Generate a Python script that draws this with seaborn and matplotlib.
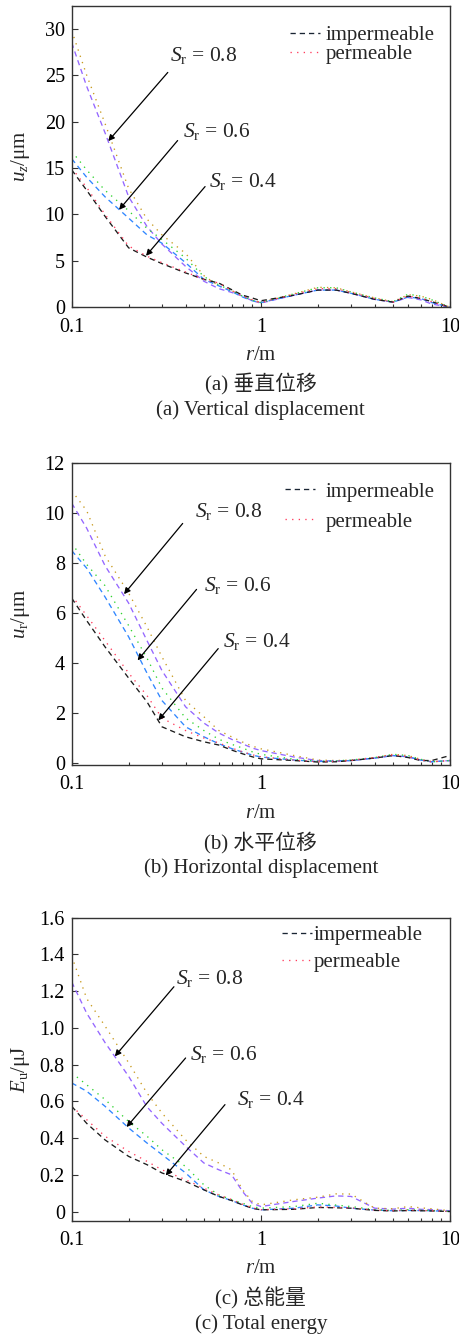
import numpy as np
import pandas as pd
import matplotlib
matplotlib.use("Agg")
import matplotlib.pyplot as plt
import seaborn as sns
from matplotlib.lines import Line2D
from matplotlib.ticker import FixedLocator, FixedFormatter, LogLocator, NullFormatter

# ---------------- data ----------------
R = [0.1, 0.12, 0.15, 0.2, 0.25, 0.3, 0.4, 0.5, 0.6, 0.7, 0.8, 0.9, 1.0,
     1.5, 2.0, 2.5, 3.0, 4.0, 5.0, 6.0, 7.0, 8.0, 10.0]

SERIES = ["Sr0.8 imp", "Sr0.8 perm", "Sr0.6 imp", "Sr0.6 perm", "Sr0.4 imp", "Sr0.4 perm"]

# (a) vertical displacement u_z / um
UZ_08_IMP = [28.5, 23.8, 18.8, 11.9, 8.7, 6.8, 4.4, 2.8, 2.0, 1.6, 1.2, 0.7, 0.45,
             1.3, 1.85, 1.85, 1.5, 0.85, 0.55, 1.05, 0.8, 0.35, 0.0]
UZ_08_PERM = [29.8, 25.0, 19.8, 12.8, 9.5, 7.8, 5.8, 3.4, 2.3, 1.8, 1.25, 0.75, 0.5,
              1.45, 2.15, 2.1, 1.65, 1.0, 0.6, 1.35, 1.2, 0.85, 0.0]
UZ_06_IMP = [16.0, 14.0, 11.9, 9.6, 7.8, 6.9, 4.8, 3.0, 2.3, 1.7, 1.1, 0.7, 0.5,
             1.3, 1.85, 1.85, 1.5, 0.85, 0.55, 1.1, 0.95, 0.5, 0.0]
UZ_06_PERM = [16.8, 14.8, 12.6, 10.4, 8.5, 7.3, 5.3, 3.3, 2.4, 1.8, 1.2, 0.75, 0.5,
              1.45, 2.1, 2.1, 1.65, 1.0, 0.6, 1.4, 1.2, 0.8, 0.0]
UZ_04_IMP = [14.8, 12.6, 9.8, 6.4, 5.4, 4.7, 3.7, 3.0, 2.6, 1.9, 1.3, 1.0, 0.7,
             1.3, 1.85, 1.85, 1.5, 0.85, 0.55, 1.2, 0.95, 0.6, 0.0]
UZ_04_PERM = [15.0, 12.9, 10.0, 6.6, 5.5, 4.8, 3.8, 3.0, 2.6, 1.8, 1.2, 0.8, 0.5,
              1.4, 2.0, 2.0, 1.6, 0.95, 0.55, 1.2, 1.0, 0.6, 0.0]

# (b) horizontal displacement u_r / um
UR_08_IMP = [10.4, 9.4, 7.9, 6.4, 4.9, 3.7, 2.25, 1.6, 1.2, 0.95, 0.77, 0.6, 0.5,
             0.24, 0.1, 0.08, 0.1, 0.2, 0.3, 0.25, 0.12, 0.05, 0.1]
UR_08_PERM = [10.9, 10.1, 8.3, 6.8, 5.45, 4.25, 2.5, 1.85, 1.3, 1.05, 0.84, 0.68, 0.57,
              0.3, 0.12, 0.1, 0.12, 0.22, 0.35, 0.3, 0.15, 0.05, 0.1]
UR_06_IMP = [8.5, 7.8, 6.65, 5.05, 3.6, 2.5, 1.45, 1.05, 0.77, 0.58, 0.44, 0.32, 0.24,
             0.12, 0.06, 0.08, 0.1, 0.2, 0.3, 0.25, 0.12, 0.05, 0.1]
UR_06_PERM = [8.8, 7.95, 7.1, 5.5, 4.2, 3.0, 1.8, 1.3, 0.95, 0.75, 0.6, 0.45, 0.35,
              0.15, 0.07, 0.09, 0.12, 0.22, 0.35, 0.3, 0.15, 0.05, 0.1]
UR_04_IMP = [6.6, 5.7, 4.65, 3.4, 2.45, 1.45, 1.05, 0.85, 0.72, 0.52, 0.37, 0.25, 0.17,
             0.1, 0.04, 0.05, 0.1, 0.2, 0.3, 0.22, 0.1, 0.1, 0.3]
UR_04_PERM = [6.7, 5.9, 4.9, 3.6, 2.7, 1.8, 1.3, 1.0, 0.8, 0.6, 0.45, 0.33, 0.25,
              0.12, 0.05, 0.07, 0.1, 0.22, 0.33, 0.25, 0.12, 0.05, 0.1]

# (c) total energy E_u / uJ
EU_08_IMP = [1.25, 1.08, 0.92, 0.736, 0.57, 0.48, 0.355, 0.264, 0.227, 0.20, 0.109, 0.045, 0.027,
             0.055, 0.073, 0.085, 0.082, 0.018, 0.013, 0.018, 0.012, 0.01, 0.004]
EU_08_PERM = [1.39, 1.16, 1.01, 0.81, 0.645, 0.536, 0.39, 0.30, 0.264, 0.227, 0.118, 0.055, 0.036,
              0.064, 0.078, 0.096, 0.095, 0.018, 0.015, 0.027, 0.02, 0.015, 0.004]
EU_06_IMP = [0.70, 0.655, 0.573, 0.455, 0.373, 0.31, 0.21, 0.118, 0.082, 0.06, 0.036, 0.018, 0.009,
             0.018, 0.036, 0.03, 0.018, 0.008, 0.004, 0.006, 0.005, 0.004, 0.0]
EU_06_PERM = [0.755, 0.69, 0.61, 0.49, 0.41, 0.336, 0.245, 0.145, 0.09, 0.065, 0.045, 0.027, 0.018,
              0.027, 0.045, 0.035, 0.027, 0.01, 0.006, 0.01, 0.008, 0.006, 0.0]
EU_04_IMP = [0.573, 0.48, 0.39, 0.30, 0.255, 0.21, 0.164, 0.118, 0.082, 0.06, 0.036, 0.018, 0.009,
             0.012, 0.022, 0.02, 0.018, 0.006, 0.003, 0.005, 0.004, 0.003, 0.0]
EU_04_PERM = [0.573, 0.50, 0.41, 0.327, 0.273, 0.227, 0.173, 0.127, 0.09, 0.065, 0.04, 0.02, 0.01,
              0.015, 0.025, 0.022, 0.02, 0.008, 0.004, 0.008, 0.006, 0.004, 0.0]

X_TICKS = [0.1, 1, 10]
X_TICKLABELS = ["0.1", "1", "10"]
UZ_TICKS = [0, 5, 10, 15, 20, 25, 30]
UR_TICKS = [0, 2, 4, 6, 8, 10, 12]
EU_TICKS = [0, 0.2, 0.4, 0.6, 0.8, 1.0, 1.2, 1.4, 1.6]
EU_TICKLABELS = ["0", "0.2", "0.4", "0.6", "0.8", "1.0", "1.2", "1.4", "1.6"]
SR_LABELS = ["0.8", "0.6", "0.4"]
LEGEND_LABELS = ["impermeable", "permeable"]

# ---------------- style ----------------
sns.set_theme(style="ticks")
plt.rcParams["font.family"] = ["Liberation Serif", "Noto Sans CJK SC"]
plt.rcParams["mathtext.fontset"] = "custom"
plt.rcParams["mathtext.rm"] = "Liberation Serif"
plt.rcParams["mathtext.it"] = "Liberation Serif:italic"
plt.rcParams["axes.unicode_minus"] = False

PALETTE = {
    "Sr0.8 imp": "#9466ff", "Sr0.8 perm": "#c89a1e",
    "Sr0.6 imp": "#2f86ff", "Sr0.6 perm": "#2fd42f",
    "Sr0.4 imp": "#1c1c1c", "Sr0.4 perm": "#ff3b5c",
}
DASHES = {s: ((4, 3) if s.endswith("imp") else (1, 4)) for s in SERIES}
LW = 0.95
SPINE = "#333333"
FS_TICK = 14.5
FS_LAB = 15
FS_ANN = 15.5
FS_LEG = 15


def long_df(cols):
    frames = []
    for name, vals in zip(SERIES, cols):
        frames.append(pd.DataFrame({"r": R, "v": vals, "series": name}))
    return pd.concat(frames, ignore_index=True)


panels = [
    dict(cols=[UZ_08_IMP, UZ_08_PERM, UZ_06_IMP, UZ_06_PERM, UZ_04_IMP, UZ_04_PERM],
         ylim=(0, 32.5), yticks=UZ_TICKS, yticklabels=[str(t) for t in UZ_TICKS],
         ylabel=r"$u_z$/μm", caps=["(a) 垂直位移", "(a) Vertical displacement"],
         rect=[0.1559, 0.7702, 0.8224, 0.2256],
         ann=[((0.331, 27.1), (0.322, 25.3), (0.156, 17.9)),
              ((0.389, 18.96), (0.363, 17.96), (0.178, 10.5)),
              ((0.533, 13.56), (0.507, 13.0), (0.247, 5.54))],
         leg=dict(anchor=(0.577, 0.935), spacing=0.0, pad=0.25)),
    dict(cols=[UR_08_IMP, UR_08_PERM, UR_06_IMP, UR_06_PERM, UR_04_IMP, UR_04_PERM],
         ylim=(-0.08, 12.02), yticks=UR_TICKS, yticklabels=[str(t) for t in UR_TICKS],
         ylabel=r"$u_\mathrm{r}$/μm", caps=["(b) 水平位移", "(b) Horizontal displacement"],
         rect=[0.1559, 0.4278, 0.8224, 0.2261],
         ann=[((0.449, 10.06), (0.386, 9.59), (0.189, 6.76)),
              ((0.50, 7.12), (0.457, 6.95), (0.223, 4.11)),
              ((0.628, 4.85), (0.595, 4.58), (0.287, 1.71))],
         leg=dict(anchor=(0.564, 0.936), spacing=0.5, pad=0.5)),
    dict(cols=[EU_08_IMP, EU_08_PERM, EU_06_IMP, EU_06_PERM, EU_04_IMP, EU_04_PERM],
         ylim=(-0.05, 1.6), yticks=EU_TICKS, yticklabels=EU_TICKLABELS,
         ylabel=r"$E_\mathrm{u}$/μJ", caps=["(c) 总能量", "(c) Total energy"],
         rect=[0.1559, 0.0870, 0.8224, 0.2266],
         ann=[((0.356, 1.27), (0.347, 1.224), (0.169, 0.845)),
              ((0.422, 0.855), (0.400, 0.836), (0.195, 0.46)),
              ((0.75, 0.609), (0.646, 0.582), (0.314, 0.196))],
         leg=dict(anchor=(0.555, 0.974), spacing=0.35, pad=0.1)),
]

fig = plt.figure(figsize=(4.60, 13.37), dpi=100)
fig.patch.set_facecolor("white")

for p in panels:
    ax = fig.add_axes(p["rect"])
    df = long_df(p["cols"])
    sns.lineplot(data=df, x="r", y="v", hue="series", style="series",
                 palette=PALETTE, dashes=DASHES, linewidth=LW,
                 estimator=None, sort=False, legend=False, ax=ax)
    ax.set_xscale("log")
    ax.set_xlim(0.1, 10)
    ax.set_ylim(*p["ylim"])
    ax.xaxis.set_major_locator(FixedLocator(X_TICKS))
    ax.xaxis.set_major_formatter(FixedFormatter(X_TICKLABELS))
    ax.xaxis.set_minor_locator(LogLocator(base=10, subs=np.arange(2, 10)))
    ax.xaxis.set_minor_formatter(NullFormatter())
    ax.yaxis.set_major_locator(FixedLocator(p["yticks"]))
    ax.yaxis.set_major_formatter(FixedFormatter(p["yticklabels"]))
    ax.tick_params(which="both", direction="in", top=False, right=False,
                   color=SPINE, width=0.8, labelsize=FS_TICK, labelcolor="black")
    ax.tick_params(which="major", length=4.2)
    ax.tick_params(axis="x", which="major", pad=7.5)
    ax.tick_params(axis="y", which="major", pad=5)
    ax.tick_params(which="minor", length=2.5)
    for sp in ax.spines.values():
        sp.set_visible(True)
        sp.set_color(SPINE)
        sp.set_linewidth(1.0)
    ax.set_facecolor("white")
    ax.grid(False)

    ax.set_xlabel(r"$r$/m", fontsize=FS_LAB)
    ax.set_ylabel(p["ylabel"], fontsize=FS_LAB)
    ax.xaxis.set_label_coords(0.5, -0.128)
    ax.yaxis.set_label_coords(-0.106, 0.5)

    for lab, (tpos, apos, tip) in zip(SR_LABELS, p["ann"]):
        ax.text(tpos[0], tpos[1], r"$S_\mathrm{r}$ = " + lab, fontsize=FS_ANN,
                ha="left", va="center")
        ax.annotate("", xy=tip, xytext=apos,
                    arrowprops=dict(arrowstyle="-|>", color="black", lw=0.9,
                                    mutation_scale=9, shrinkA=0, shrinkB=0))

    handles = [Line2D([], [], color="#1a2533", lw=LW, dashes=(4, 3)),
               Line2D([], [], color="#ff3b5c", lw=LW, dashes=(1, 4))]
    lg = p["leg"]
    ax.legend(handles, LEGEND_LABELS, loc="upper left", bbox_to_anchor=lg["anchor"],
              frameon=False, fontsize=FS_LEG, borderpad=0, borderaxespad=0,
              handlelength=1.45, handletextpad=lg["pad"], labelspacing=lg["spacing"])

    ax.text(0.5, -0.257, p["caps"][0], transform=ax.transAxes, ha="center",
            va="center", fontsize=FS_LAB)
    ax.text(0.5, -0.340, p["caps"][1], transform=ax.transAxes, ha="center",
            va="center", fontsize=FS_LAB)

fig.savefig("out.png", dpi=100, facecolor="white")
